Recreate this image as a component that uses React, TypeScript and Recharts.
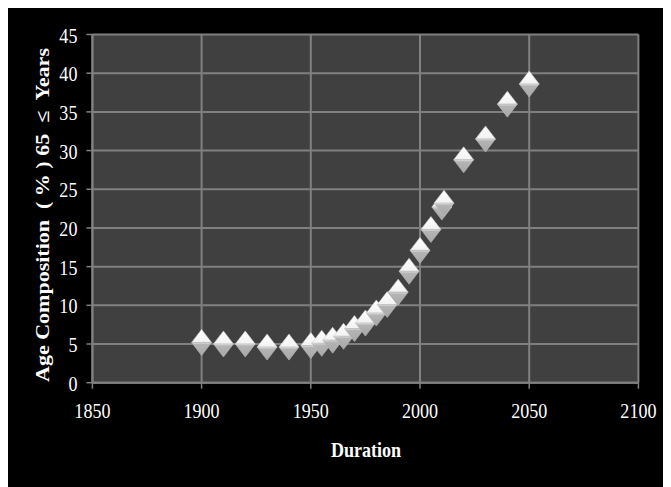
import { ScatterChart, Scatter, XAxis, YAxis, CartesianGrid } from 'recharts';

// share of population aged 65 and over
const years = [1900, 1910, 1920, 1930, 1940, 1950, 1955, 1960, 1965, 1970, 1975, 1980, 1985, 1990, 1995, 2000, 2005, 2010, 2011, 2020, 2030, 2040, 2050];
const shares = [5.2, 5.0, 5.0, 4.6, 4.6, 4.8, 5.1, 5.5, 6.0, 7.0, 7.7, 9.0, 10.1, 11.7, 14.4, 17.1, 19.8, 22.7, 23.2, 28.8, 31.5, 36.0, 38.6];
const xTicks = [1850, 1900, 1950, 2000, 2050, 2100];
const yTicks = [0, 5, 10, 15, 20, 25, 30, 35, 40, 45];

const data = years.map((year, i) => ({ year, share: shares[i] }));

const FONT = '"Liberation Serif", "Times New Roman", serif';
const GRID = '#808080';

const XTick = ({ x, y, payload }: any) => (
  <text
    transform={`translate(${x},${y + 29}) scale(0.82,1)`}
    textAnchor="middle"
    fill="#fff"
    fontSize={22}
    fontFamily={FONT}
  >
    {payload.value}
  </text>
);

const YTick = ({ x, y, payload }: any) => (
  <text
    transform={`translate(${x},${y + 8}) scale(0.82,1)`}
    textAnchor="end"
    fill="#fff"
    fontSize={22}
    fontFamily={FONT}
  >
    {payload.value}
  </text>
);

const Diamond = ({ cx, cy }: any) => {
  const w = 10;
  const h = 13;
  return (
    <g>
      <path d={`M${cx},${cy - h} L${cx + w},${cy} L${cx - w},${cy} Z`} fill="url(#dTop)" stroke="#d0d0d0" strokeWidth={0.6} />
      <path d={`M${cx - w},${cy} L${cx + w},${cy} L${cx},${cy + h} Z`} fill="url(#dBot)" stroke="#b8b8b8" strokeWidth={0.6} />
    </g>
  );
};

export default function App() {
  return (
    <div style={{ position: 'relative', width: 665, height: 479, marginLeft: -2, background: '#000' }}>
      <svg width={0} height={0} style={{ position: 'absolute' }}>
        <defs>
          <linearGradient id="dTop" x1="0" y1="0" x2="0" y2="1">
            <stop offset="0%" stopColor="#ffffff" />
            <stop offset="100%" stopColor="#f2f2f2" />
          </linearGradient>
          <linearGradient id="dBot" x1="0" y1="0" x2="0" y2="1">
            <stop offset="0%" stopColor="#e6e6e6" />
            <stop offset="15%" stopColor="#b4b4b4" />
            <stop offset="100%" stopColor="#a8a8a8" />
          </linearGradient>
        </defs>
      </svg>
      <ScatterChart width={665} height={479} margin={{ top: 26.5, right: 32.6, left: 26.4, bottom: 74.3 }}>
        <CartesianGrid fill="#404040" stroke={GRID} strokeWidth={2} horizontalValues={yTicks} verticalValues={xTicks} />
        <XAxis
          type="number"
          dataKey="year"
          domain={[1850, 2100]}
          ticks={xTicks}
          interval={0}
          height={30}
          tick={<XTick />}
          tickSize={6}
          tickMargin={0}
          axisLine={{ stroke: GRID, strokeWidth: 2 }}
          tickLine={{ stroke: GRID, strokeWidth: 1.5 }}
        />
        <YAxis
          type="number"
          dataKey="share"
          domain={[0, 45]}
          ticks={yTicks}
          interval={0}
          width={60}
          tick={<YTick />}
          tickSize={6}
          tickMargin={9}
          axisLine={{ stroke: GRID, strokeWidth: 2 }}
          tickLine={{ stroke: GRID, strokeWidth: 1.5 }}
        />
        <Scatter data={data} shape={<Diamond />} isAnimationActive={false} />
      </ScatterChart>
      <div
        style={{
          position: 'absolute',
          left: 360 - 100,
          top: 430,
          width: 200,
          textAlign: 'center',
          color: '#fff',
          fontFamily: FONT,
          fontWeight: 'bold',
          fontSize: 22,
          transform: 'scaleX(0.82)',
          lineHeight: '24px',
        }}
      >
        Duration
      </div>
      <div
        style={{
          position: 'absolute',
          left: 37 - 200,
          top: 207 - 12,
          width: 400,
          textAlign: 'center',
          color: '#fff',
          fontFamily: FONT,
          fontWeight: 'bold',
          fontSize: 22,
          lineHeight: '24px',
          whiteSpace: 'pre',
          transform: 'rotate(-90deg) scaleY(0.85)',
        }}
      >
        {'Age Composition  ( % ) 65  ≤  Years'}
      </div>
    </div>
  );
}
